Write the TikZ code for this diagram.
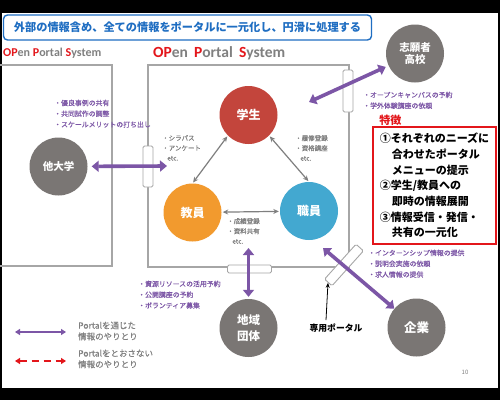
\documentclass[tikz,border=0pt]{standalone}
\usepackage{fontspec}
\setmainfont{Noto Sans CJK JP}
\newfontfamily\latinfont{Carlito}
\newfontfamily\notefont[FakeBold=0.4]{Noto Sans CJK JP}
\usetikzlibrary{arrows.meta, positioning}
\definecolor{clrStu}{HTML}{C3453C}
\definecolor{clrFac}{HTML}{F29A2E}
\definecolor{clrStf}{HTML}{43A8D0}
\definecolor{clrExt}{HTML}{7A7674}
\definecolor{clrPur}{HTML}{7C56A6}
\definecolor{clrTxt}{HTML}{808080}
\definecolor{clrArr}{HTML}{7F7F7F}
\definecolor{clrTtl}{HTML}{1F6EC2}
\definecolor{clrLine}{HTML}{A6A6A6}
\definecolor{clrRed}{HTML}{E3161B}

\begin{document}
\begin{tikzpicture}[
  x=1pt, y=-1pt,
  role/.style = {
    circle, minimum size=58pt, inner sep=0pt, text=white,
    font=\bfseries\fontsize{12}{15}\selectfont, align=center
  },
  ext/.style = {role, fill=clrExt, font=\bfseries\fontsize{10.5}{12.5}\selectfont},
  prt/.style = {
    rectangle, rounded corners=1.5pt, draw=clrLine, fill=white,
    line width=0.9pt, inner sep=0pt
  },
  note/.style = {
    anchor=north west, inner sep=0pt, align=left, text=clrTxt,
    font=\notefont\fontsize{6.5}{10}\selectfont
  },
  pnote/.style = {note, text=clrPur, font=\notefont\fontsize{6.9}{10.8}\selectfont},
  ops/.style = {anchor=west, inner sep=0pt, text=clrTxt},
  wall/.style = {draw=clrLine, line width=1.3pt},
  gar/.style = {
    {Stealth[length=5.5pt,width=5pt]}-{Stealth[length=5.5pt,width=5pt]},
    line width=1.2pt, draw=clrArr, shorten <=1pt, shorten >=1pt
  },
  par/.style = {
    {Triangle[length=7pt,width=11pt]}-{Triangle[length=7pt,width=11pt]},
    line width=3.6pt, draw=clrPur
  },
  lpar/.style = {
    {Triangle[length=5pt,width=6pt]}-{Triangle[length=5pt,width=6pt]},
    line width=1.8pt, draw=clrPur
  },
  lrar/.style = {
    {Triangle[length=5pt,width=6pt]}-{Triangle[length=5pt,width=6pt]},
    line width=1.8pt, draw=clrRed, dash pattern=on 7pt off 5pt
  },
  blk/.style = {-{Stealth[length=5pt,width=4pt]}, line width=0.8pt, draw=black},
  leg/.style = {anchor=north west, inner sep=0pt, align=left, text=clrTxt,
    font=\notefont\fontsize{8.5}{11}\selectfont}
]
  \useasboundingbox (0,0) rectangle (500,400);
  \fill[black] (0,0) rectangle (500,400);
  \fill[white] (2,13) rectangle (498,388);

  % title
  \node[draw=clrTtl, rounded corners=4pt, line width=1.4pt,
        minimum width=368pt, minimum height=25pt, text=clrTtl,
        font=\bfseries\fontsize{11.2}{13}\selectfont] (ttl) at (187.5,27.5)
        {外部の情報含め、全ての情報をポータルに一元化し、円滑に処理する};

  \node[ops, font=\latinfont\bfseries\fontsize{12}{14}\selectfont] (opsL) at (3,53)
    {\textcolor{clrRed}{OP}en \textcolor{clrRed}{P}ortal \textcolor{clrRed}{S}ystem};
  \node[ops, font=\latinfont\bfseries\fontsize{15.5}{18}\selectfont] (opsR) at (153,53)
    {\textcolor{clrRed}{OP}en\ \,\textcolor{clrRed}{P}ortal\ \,\textcolor{clrRed}{S}ystem};

  % boxes
  \draw[wall] (0,65) -- (112,65) -- (112,266) -- (0,266);
  \draw[wall] (148,65) rectangle (349,267);

  \node[prt, minimum width=10pt, minimum height=41pt] (prtL) at (148,166.5) {};
  \node[prt, minimum width=10pt, minimum height=42pt] (prtR) at (348,91) {};
  \node[prt, minimum width=44pt, minimum height=8pt]  (prtB) at (249.5,269) {};
  \node[prt, minimum width=47pt, minimum height=10pt, rotate=48] (prtD) at (344,265) {};

  % circles
  \node[role, fill=clrStu] (stu)  at (248.5,115)   {学生};
  \node[role, fill=clrFac] (fac)  at (192.5,212.5) {教員};
  \node[role, fill=clrStf] (stf)  at (309,211)     {職員};
  \node[ext]               (univ) at (58.5,166.5)  {他大学};
  \node[ext]               (hs)   at (415,53.5)    {志願者\\高校};
  \node[ext, font=\bfseries\fontsize{11.5}{16}\selectfont] (comm) at (248.5,328) {地域\\団体};
  \node[ext, font=\bfseries\fontsize{12.5}{15}\selectfont] (corp) at (416.5,327.5) {企業};

  \draw[gar] (stu.225) -- (fac.north);
  \draw[gar] (stu.-45) -- (stf.north);
  \draw[gar] (fac) -- (stf);

  \coordinate (univIn) at (167,166);
  \coordinate (hsIn)   at (309,102);
  \coordinate (commIn) at (248.5,248);
  \coordinate (corpIn) at (323,248);
  \draw[par, shorten <=4pt] (univ) -- (univIn);
  \draw[par, shorten <=3pt] (hs)   -- (hsIn);
  \draw[par, shorten <=2pt] (comm) -- (commIn);
  \draw[par]                (corp) -- (corpIn);

  % notes
  \node[note] (nSyl) at (162,135)   {・シラバス\\・アンケート\\\hspace*{5pt}etc.};
  \node[note] (nReg) at (295,135)   {・履修登録\\・資格講座\\\hspace*{5pt}etc.};
  \node[note] (nGrd) at (227,218)   {・成績登録\\・資料共有\\\hspace*{5pt}etc.};
  \node[pnote] (nUniv) at (54,99.5) {・優良事例の共有\\・共同試作の調整\\・スケールメリットの打ち出し};
  \node[pnote] (nHs)   at (363,91.5) {・オープンキャンパスの予約\\・学外体験講座の依頼};
  \node[pnote] (nCorp) at (368,249.5) {・インターンシップ情報の提供\\・説明会実施の依頼\\・求人情報の提供};
  \node[pnote] (nComm) at (138,280.5) {・資源リソースの活用予約\\・公開講座の予約\\・ボランティア募集};

  % dedicated portal
  \node[font=\bfseries\fontsize{8.8}{10}\selectfont] (dedic) at (336,328) {専用ポータル};
  \draw[blk] ([xshift=-10pt]dedic.north) -- (prtD.west);

  % features
  \node[draw=clrRed, line width=1.5pt, minimum width=123pt, minimum height=117pt,
        align=left, inner sep=0pt, font=\bfseries\fontsize{11}{15.7}\selectfont] (feat)
        at (434.5,185.5)
        {①それぞれのニーズに\\\hspace*{12pt}合わせたポータル\\\hspace*{12pt}メニューの提示\\
         ②学生/教員への\\\hspace*{12pt}即時の情報展開\\
         ③情報受信・発信・\\\hspace*{12pt}共有の一元化};
  \node[above right=0pt and 7pt of feat.north west, inner sep=0pt, text=clrRed,
        font=\bfseries\fontsize{11}{13}\selectfont] (featT) {特徴};

  % legend
  \coordinate (lgA) at (15,332);
  \coordinate (lgB) at (66,332);
  \coordinate (lgC) at (15,361);
  \coordinate (lgD) at (66,361);
  \draw[lpar] (lgA) -- (lgB);
  \draw[lrar] (lgC) -- (lgD);
  \node[leg] (lgT1) at (78,321.5) {Portalを通じた\\情報のやりとり};
  \node[leg] (lgT2) at (78,349.5) {Portalをとおさない\\情報のやりとり};

  \node[text=clrTxt, font=\fontsize{6}{7}\selectfont] (pgno) at (465,372) {10};
\end{tikzpicture}
\end{document}
